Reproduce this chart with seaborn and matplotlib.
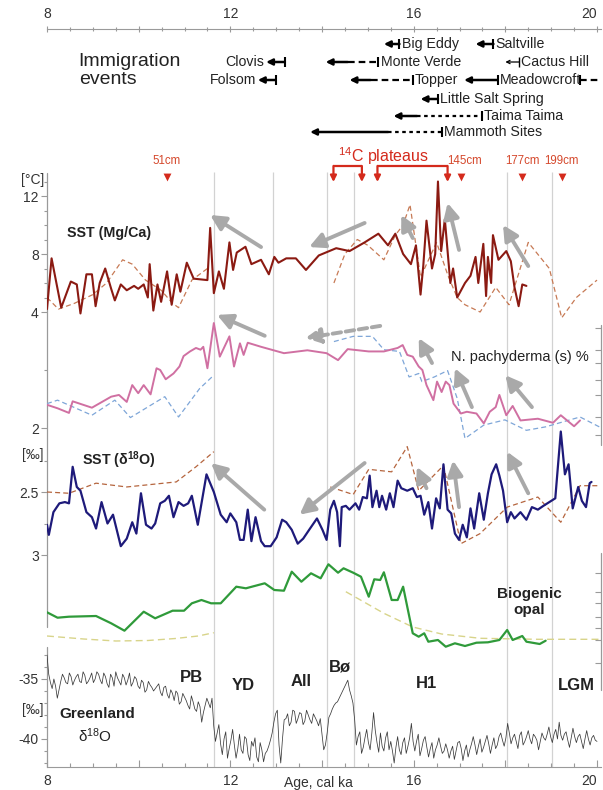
import numpy as np
import matplotlib
matplotlib.use("Agg")
import matplotlib.pyplot as plt
import seaborn as sns

# ---------------- data (ages in cal ka BP) ----------------
# SST from Mg/Ca [deg C]
mgca_age = [8.00, 8.10, 8.31, 8.52, 8.65, 8.73, 8.86, 8.98, 9.06, 9.15,
            9.27, 9.40, 9.48, 9.61, 9.74, 9.90, 9.99, 10.11, 10.20, 10.24,
            10.32, 10.41, 10.49, 10.62, 10.72, 10.83, 10.91, 11.05, 11.20, 11.50,
            11.56, 11.64, 11.75, 11.86, 11.98, 12.06, 12.14, 12.33, 12.46, 12.67,
            12.84, 12.96, 13.05, 13.22, 13.43, 13.65, 13.93, 14.31, 14.60, 14.93,
            15.23, 15.44, 15.60, 15.77, 15.94, 16.05, 16.15, 16.21, 16.28, 16.40,
            16.47, 16.53, 16.60, 16.68, 16.80, 16.86, 16.95, 17.12, 17.24, 17.35,
            17.41, 17.52, 17.58, 17.62, 17.69, 17.73, 17.85, 18.02, 18.12, 18.20,
            18.29, 18.37, 18.46]
mgca_sst = [4.2, 7.7, 4.3, 6.1, 5.9, 3.9, 6.6, 6.6, 4.4, 6.0,
            7.0, 5.6, 4.8, 5.9, 5.5, 5.8, 5.6, 5.9, 5.0, 7.3,
            4.1, 5.9, 4.7, 6.8, 4.5, 6.6, 5.4, 7.4, 6.3, 6.2,
            9.8, 5.3, 6.8, 5.6, 8.8, 6.9, 8.1, 8.5, 7.3, 7.6,
            6.6, 7.8, 7.4, 7.7, 7.7, 6.9, 7.9, 8.4, 8.2, 8.8,
            9.4, 8.6, 9.4, 8.0, 7.3, 8.6, 5.2, 7.2, 10.3, 7.0,
            8.0, 13.0, 8.2, 10.4, 6.0, 7.0, 5.0, 6.0, 6.5, 7.8,
            6.0, 8.7, 5.1, 7.8, 6.0, 9.3, 7.6, 8.2, 7.5, 5.7,
            4.4, 5.9, 5.8]
# comparison record (dashed), two pieces
mgca_ref_age_a = [8.0, 8.25, 8.6, 9.0, 9.3, 9.65, 9.86, 10.15, 10.49, 10.74, 10.87, 11.16, 11.5]
mgca_ref_a = [5.0, 4.2, 4.6, 5.2, 6.0, 7.6, 7.3, 6.2, 5.5, 4.6, 4.3, 6.2, 7.0]
mgca_ref_age_b = [14.26, 14.5, 14.77, 15.0, 15.35, 15.6, 15.77, 15.92, 16.15, 16.5,
                  16.75, 16.95, 17.12, 17.45, 17.79, 18.08, 18.5, 18.96, 19.23, 19.55, 20.0]
mgca_ref_b = [6.0, 8.0, 9.0, 8.6, 7.6, 9.3, 10.0, 11.4, 6.4, 8.8,
              6.5, 5.0, 4.5, 4.0, 5.7, 4.5, 8.8, 7.0, 3.6, 5.0, 6.2]

# N. pachyderma (s) %
pachy_age = [8.0, 8.23, 8.48, 8.56, 8.98, 9.4, 9.57, 9.74, 9.86, 9.99,
             10.11, 10.26, 10.39, 10.47, 10.59, 10.76, 10.89, 10.98, 11.12, 11.25,
             11.35, 11.41, 11.5, 11.64, 11.77, 11.98, 12.08, 12.21, 12.29, 12.38,
             12.67, 13.17, 13.68, 14.1, 14.35, 14.56, 15.02, 15.35, 15.65, 15.76,
             15.86, 15.98, 16.11, 16.19, 16.28, 16.43, 16.51, 16.61, 16.7, 16.78,
             16.87, 17.03, 17.16, 17.37, 17.53, 17.66, 17.79, 17.87, 18.02, 18.16,
             18.33, 18.71, 19.04, 19.21, 19.5, 19.63]
pachy = [2.40, 2.34, 2.26, 2.46, 2.35, 2.54, 2.57, 2.45, 2.74, 2.60,
         2.74, 2.58, 3.03, 3.00, 2.84, 2.94, 3.06, 3.24, 3.32, 3.38,
         3.35, 3.40, 3.03, 3.81, 3.23, 3.58, 3.06, 3.46, 3.26, 3.47,
         3.40, 3.29, 3.34, 3.29, 3.17, 3.36, 3.32, 3.32, 3.38, 3.43,
         3.26, 3.23, 3.06, 3.00, 2.74, 2.48, 2.80, 2.62, 2.80, 2.74,
         2.42, 2.25, 2.28, 2.25, 2.08, 2.28, 2.36, 2.57, 2.22, 2.38,
         2.13, 2.16, 2.09, 2.22, 2.03, 2.13]
pachy_ref_age_a = [8.0, 8.23, 8.52, 8.98, 9.48, 9.82, 10.57, 10.87, 11.33, 11.64]
pachy_ref_a = [2.42, 2.48, 2.38, 2.22, 2.48, 2.18, 2.54, 2.19, 2.68, 2.91]
pachy_ref_age_b = [14.26, 14.68, 15.1, 15.35, 15.69, 15.9, 16.11, 16.18, 16.45, 16.74,
                   16.95, 17.12, 17.53, 17.99, 18.46, 18.88, 19.63, 20.05]
pachy_ref_b = [3.49, 3.58, 3.58, 3.35, 3.32, 2.88, 2.94, 2.80, 2.88, 2.99,
               2.51, 1.82, 2.05, 2.14, 1.96, 2.02, 2.19, 2.02]

# planktic d18O [permil]
d18o_age = [8.00, 8.04, 8.14, 8.27, 8.39, 8.48, 8.56, 8.65, 8.73, 8.86,
            8.98, 9.07, 9.19, 9.32, 9.44, 9.61, 9.74, 9.86, 9.95, 10.05,
            10.16, 10.28, 10.36, 10.47, 10.57, 10.66, 10.76, 10.87, 10.98, 11.08,
            11.16, 11.29, 11.48, 11.64, 11.79, 11.92, 12.00, 12.13, 12.21, 12.29,
            12.38, 12.46, 12.55, 12.67, 12.75, 12.88, 13.01, 13.13, 13.22, 13.34,
            13.47, 13.59, 13.72, 13.89, 14.01, 14.10, 14.18, 14.26, 14.33, 14.39,
            14.43, 14.52, 14.60, 14.73, 14.81, 14.89, 14.98, 15.04, 15.10, 15.19,
            15.25, 15.31, 15.40, 15.48, 15.56, 15.65, 15.73, 15.86, 15.98, 16.07,
            16.15, 16.23, 16.32, 16.40, 16.49, 16.57, 16.65, 16.74, 16.82, 16.90,
            16.99, 17.07, 17.16, 17.24, 17.32, 17.43, 17.53, 17.62, 17.70, 17.80,
            17.87, 17.95, 18.04, 18.12, 18.20, 18.33, 18.46, 18.58, 18.71, 18.83,
            18.96, 19.09, 19.21, 19.30, 19.38, 19.47, 19.59, 19.67, 19.76, 19.84,
            19.88]
d18o = [2.76, 2.84, 2.66, 2.59, 2.58, 2.59, 2.30, 2.46, 2.49, 2.66,
        2.70, 2.79, 2.58, 2.75, 2.68, 2.93, 2.87, 2.74, 2.83, 2.51,
        2.76, 2.79, 2.75, 2.59, 2.57, 2.53, 2.70, 2.58, 2.61, 2.59,
        2.53, 2.76, 2.36, 2.50, 2.68, 2.74, 2.67, 2.74, 2.88, 2.88,
        2.64, 2.89, 2.70, 2.89, 2.93, 2.93, 2.86, 2.72, 2.74, 2.80,
        2.91, 2.87, 2.80, 2.71, 2.80, 2.88, 2.64, 2.57, 2.66, 2.93,
        2.62, 2.61, 2.64, 2.59, 2.64, 2.54, 2.55, 2.37, 2.62, 2.49,
        2.62, 2.53, 2.64, 2.51, 2.62, 2.41, 2.47, 2.49, 2.47, 2.54,
        2.53, 2.68, 2.58, 2.79, 2.55, 2.63, 2.28, 2.64, 2.67, 2.83,
        2.88, 2.76, 2.86, 2.63, 2.79, 2.51, 2.72, 2.51, 2.36, 2.28,
        2.37, 2.49, 2.74, 2.66, 2.71, 2.66, 2.72, 2.62, 2.64, 2.61,
        2.58, 2.55, 2.02, 2.36, 2.28, 2.63, 2.46, 2.57, 2.62, 2.43,
        2.42]
d18o_ref_age_a = [8.0, 8.48, 9.07, 9.74, 10.82, 11.25, 11.64]
d18o_ref_a = [2.50, 2.51, 2.43, 2.46, 2.42, 2.30, 2.18]
d18o_ref_age_b = [14.18, 14.68, 15.02, 15.52, 15.86, 16.11, 16.65, 17.03, 17.45, 18.04,
                  18.71, 19.21, 19.63, 20.05]
d18o_ref_b = [2.46, 2.52, 2.32, 2.34, 2.14, 2.49, 2.29, 2.91, 2.83, 2.62,
              2.54, 2.74, 2.45, 2.45]

# biogenic opal (arbitrary units)
opal_age = [8.0, 8.23, 8.48, 9.07, 9.4, 9.69, 10.11, 10.36, 10.74, 10.99,
            11.16, 11.37, 11.58, 11.79, 12.13, 12.34, 12.75, 12.96, 13.17, 13.34,
            13.55, 13.76, 13.97, 14.14, 14.35, 14.47, 14.68, 14.85, 15.02, 15.14,
            15.27, 15.35, 15.52, 15.65, 15.77, 15.86, 15.98, 16.11, 16.23, 16.32,
            16.53, 16.7, 16.9, 17.12, 17.37, 17.62, 17.87, 18.04, 18.16, 18.37,
            18.46, 18.75, 18.88]
opal = [3.77, 3.23, 3.33, 3.40, 2.67, 1.93, 3.83, 3.17, 3.93, 3.93,
        4.67, 5.00, 4.67, 4.67, 6.33, 6.17, 6.67, 6.00, 5.93, 7.83,
        6.83, 7.67, 7.17, 8.57, 7.73, 8.17, 7.73, 7.33, 5.33, 7.07,
        7.00, 7.77, 5.00, 5.00, 6.33, 4.33, 1.67, 1.33, 1.67, 0.83,
        1.00, 0.33, 0.67, 0.40, 0.73, 0.77, 1.00, 2.00, 1.00, 1.40,
        0.83, 0.60, 0.93]
opal_ref_age_a = [8.0, 8.8, 9.5, 10.2, 10.8, 11.3, 11.64]
opal_ref_a = [1.4, 1.1, 0.9, 0.95, 1.15, 1.4, 1.73]
opal_ref_age_b = [14.52, 15.35, 15.98, 16.61, 17.45, 18.71, 20.05]
opal_ref_b = [5.83, 3.67, 2.3, 1.6, 1.17, 1.07, 1.07]

# Greenland ice d18O [permil], read every 75 yr from 8 to 20 ka ...
greenland = [-33.0, -35.3, -35.0, -36.6, -35.2, -34.9, -35.4, -34.8, -35.1, -34.6,
             -35.3, -34.7, -35.2, -34.5, -35.0, -34.6, -35.4, -34.8, -35.7, -34.9,
             -34.4, -35.2, -34.6, -35.5, -34.5, -35.3, -35.0, -35.8, -35.3, -35.9,
             -35.5, -36.0, -35.6, -36.1, -35.7, -36.3, -35.9, -36.8, -36.2, -36.9,
             -36.5, -37.2, -36.4, -37.5, -36.9, -38.6, -37.2, -37.0, -36.6, -40.2,
             -38.8, -41.3, -39.4, -40.8, -39.2, -41.6, -39.6, -41.2, -40.0, -41.8,
             -40.6, -41.5, -40.3, -41.9, -41.0, -40.1, -38.6, -37.6, -42.0, -38.4,
             -37.9, -38.6, -37.7, -38.3, -37.9, -38.5, -38.0, -38.7, -38.2, -38.9,
             -39.6, -40.5, -38.2, -37.5, -37.0, -36.6, -36.0, -35.4, -35.9, -37.0,
             -40.5, -39.4, -40.7, -39.2, -40.9, -37.8, -40.3, -39.5, -41.0, -39.4,
             -40.2, -42.0, -39.8, -41.3, -39.9, -40.6, -38.7, -41.0, -39.6, -40.8,
             -39.8, -41.5, -40.3, -40.9, -39.9, -41.2, -40.4, -41.6, -40.6, -41.0,
             -40.2, -41.8, -40.5, -40.9, -39.8, -41.3, -40.0, -40.7, -39.7, -41.2,
             -39.9, -40.5, -39.5, -40.6, -38.7, -40.4, -39.6, -40.8, -39.4, -40.2,
             -39.3, -40.4, -39.8, -40.9, -39.5, -40.1, -39.0, -40.3, -39.2, -38.6,
             -40.1, -39.4, -40.7, -39.1, -40.3, -39.6, -40.8, -39.3, -40.5, -39.7,
             -40.2]
# ... and the values read half-way between those samples
greenland_mid = [-34.6, -35.8, -35.6, -35.9, -34.6, -35.3, -34.5, -35.5, -34.8, -35.2,
                 -34.4, -35.4, -34.9, -35.3, -34.4, -35.1, -34.5, -35.4, -34.6, -35.6,
                 -34.9, -35.5, -34.9, -35.1, -35.6, -34.8, -35.6, -35.1, -36.1, -35.2,
                 -35.7, -35.8, -35.4, -36.4, -35.6, -36.6, -36.2, -36.0, -37.1, -36.2,
                 -36.8, -37.5, -36.9, -37.7, -37.3, -37.8, -36.6, -37.4, -38.9, -39.5,
                 -40.4, -40.0, -41.6, -40.1, -40.5, -40.8, -40.9, -39.8, -41.3, -40.2,
                 -39.9, -41.9, -40.9, -41.2, -40.6, -39.5, -37.9, -40.5, -40.0, -38.3,
                 -38.9, -37.6, -38.7, -37.8, -38.8, -37.6, -38.4, -37.9, -38.5, -38.3,
                 -40.9, -39.5, -37.9, -37.2, -36.9, -36.3, -35.7, -35.1, -36.4, -38.4,
                 -39.8, -41.2, -39.9, -40.3, -39.5, -39.3, -41.1, -40.6, -39.9, -40.9,
                 -41.0, -40.7, -40.9, -40.3, -41.2, -39.9, -40.2, -40.2, -41.4, -40.1,
                 -40.7, -40.8, -41.6, -40.5, -40.6, -41.0, -40.9, -41.0, -41.7, -40.3,
                 -40.8, -41.0, -41.5, -40.4, -40.5, -40.6, -41.1, -40.2, -40.4, -40.5,
                 -40.8, -39.8, -40.1, -39.9, -39.5, -39.9, -40.2, -39.7, -40.5, -39.8,
                 -40.0, -39.6, -40.1, -40.2, -39.9, -39.6, -39.8, -39.6, -40.0, -39.7,
                 -39.6, -40.1, -39.9, -39.8, -39.8, -40.2, -40.0, -40.0, -39.9, -40.1]

# climate-period boundaries and names
boundaries = [11.64, 12.92, 14.11, 14.69, 18.04, 19.02]
periods = ["PB", "YD", "All", "Bø", "H1", "LGM"]
period_age = [11.16, 12.28, 13.55, 14.39, 16.28, 19.55]

# immigration events: arrow head (youngest), end of solid part, oldest bound
sites = ["Big Eddy", "Saltville", "Clovis", "Folsom", "Monte Verde", "Cactus Hill",
         "Topper", "Meadowcroft", "Little Salt Spring", "Taima Taima", "Mammoth Sites"]
site_head = [15.35, 17.35, 12.78, 12.60, 14.08, 18.00, 14.60, 17.10, 16.15, 15.56, 13.74]
site_solid = [15.69, 17.74, 13.19, 12.99, 14.56, 18.30, 15.06, 17.83, 16.53, 16.07, 15.44]
site_old = [15.69, 17.74, 13.19, 12.99, 15.23, 18.30, 15.98, 17.83, 16.53, 17.49, 16.61]
meadowcroft_old = [19.62, 20.40]

# 14C dating marks
core_depth = ["51cm", "145cm", "177cm", "199cm"]
core_age = [10.62, 17.03, 18.37, 19.23]
plateaus = [(14.25, 14.87), (15.21, 16.74)]

# grey trend arrows (tail -> head) in each panel's own units
trend_mgca = [((12.67, 8.48), (11.56, 10.69)), ((14.93, 10.14), (13.72, 8.48)),
              ((15.98, 9.10), (15.73, 10.69)), ((16.99, 8.28), (16.74, 11.52)),
              ((18.50, 7.17), (17.95, 10.00))]
trend_pachy = [((12.75, 3.59), (11.71, 3.95)), ((16.40, 3.12), (16.11, 3.55)),
               ((17.27, 2.36), (16.90, 3.03)), ((18.58, 2.36), (18.00, 2.91))]
trend_pachy_dashed = [((15.27, 3.76), (13.64, 3.55))]
trend_d18o = [((12.74, 2.64), (11.58, 2.27)), ((14.93, 2.27), (13.51, 2.68)),
              ((16.28, 2.47), (16.07, 2.30)), ((16.99, 2.62), (16.86, 2.25)),
              ((18.50, 2.51), (18.04, 2.18))]

# ---------------- layout ----------------
FIG_W, FIG_H = 603, 790
AX_LEFT, AX_RIGHT = 47, 601
X0 = 8.0
X1 = 8.0 + 12 * (AX_RIGHT - AX_LEFT) / 550.0
PLOT_TOP, PLOT_BOT = 165, 767
# row of each immigration site (px from top)
site_row = [44, 44, 62, 80, 62, 62, 80, 80, 99, 116, 132]
site_style = ["", "", "", "", "--", "", "--", "", "", ":", ":"]

RED = "#d42a1c"
RED_TXT = "#d5482c"
MGCA_C, MGCA_D = "#8b1a12", "#c77a55"
PINK, BLUE_D = "#d070a2", "#7ea6d8"
NAVY, BROWN_D = "#1e1a7a", "#b5653e"
GREEN, YEL_D = "#2f9a3a", "#d8d48a"
GRL = "#3a3a3a"
ARROW = "#a9a9a9"
VLINE = "#d2d2d2"
AXC = "#9a9a9a"
TXT = "#222222"

sns.set_style("white")
plt.rcParams["font.family"] = ["Liberation Sans", "DejaVu Sans"]
plt.rcParams["mathtext.fontset"] = "custom"
plt.rcParams["mathtext.rm"] = "Liberation Sans"
plt.rcParams["mathtext.it"] = "Liberation Sans:italic"

# Greenland series: samples and half-way readings in age order
grl_vals = []
for a, b in zip(greenland[:-1], greenland_mid):
    grl_vals += [a, b]
grl_vals.append(greenland[-1])
grl_age = np.round(8.0 + 0.0375 * np.arange(len(grl_vals)), 4)

fig = plt.figure(figsize=(FIG_W / 100, FIG_H / 100), dpi=100)
L = AX_LEFT / FIG_W
W = (AX_RIGHT - AX_LEFT) / FIG_W

# master axes in pixel rows, for text and guides
ax0 = fig.add_axes([L, 0, W, 1], label="master")
ax0.set_xlim(X0, X1)
ax0.set_ylim(FIG_H, 0)
ax0.axis("off")


def panel_ylim(ref_px, ref_val, px_per_unit, up=True):
    s = 1 if up else -1
    lo = ref_val - s * (PLOT_BOT - ref_px) / px_per_unit
    hi = ref_val + s * (ref_px - PLOT_TOP) / px_per_unit
    return lo, hi


def make_panel(name, ylim):
    ax = fig.add_axes([L, 1 - PLOT_BOT / FIG_H, W, (PLOT_BOT - PLOT_TOP) / FIG_H],
                      label=name, facecolor="none")
    for s in ax.spines.values():
        s.set_visible(False)
    ax.set_xticks([])
    ax.set_yticks([])
    ax._lims = ylim
    return ax


def finish(ax):
    ax.set_xlim(X0, X1)
    ax.set_ylim(*ax._lims)
    ax.set_xlabel("")
    ax.set_ylabel("")
    ax.tick_params(axis="y", which="both", left=True, direction="out",
                   color=AXC, width=0.8, labelsize=10, labelcolor="#333", pad=2)
    ax.tick_params(axis="y", which="major", length=4)
    ax.tick_params(axis="y", which="minor", length=2.5)


def line(ax, x, y, color, lw, ls="-"):
    sns.lineplot(x=x, y=y, ax=ax, color=color, linewidth=lw, linestyle=ls,
                 sort=False, estimator=None, legend=False)


def trend(ax, arrows, ls="-"):
    for tail, head in arrows:
        ax.annotate("", xy=head, xytext=tail, annotation_clip=False,
                    arrowprops=dict(arrowstyle="-|>,head_length=0.75,head_width=0.38",
                                    color=ARROW, lw=2.8, ls=ls, mutation_scale=12,
                                    shrinkA=0, shrinkB=0))


# guides behind the data
ax0.vlines(boundaries, 172, PLOT_BOT, color=VLINE, lw=0.9)
ax0.plot([X0, X0], [173, 627], color=AXC, lw=0.9, clip_on=False)
ax0.plot([X0, X0], [647, PLOT_BOT], color=AXC, lw=0.9, clip_on=False)
ax0.plot([X1, X1], [325, 445], color=AXC, lw=0.9, clip_on=False)
ax0.plot([X1, X1], [553, 690], color=AXC, lw=0.9, clip_on=False)

# panel 1: SST Mg/Ca
ax1 = make_panel("mgca", panel_ylim(254, 8, 14.5))
line(ax1, mgca_ref_age_a, mgca_ref_a, MGCA_D, 0.9, (0, (4, 2.5)))
line(ax1, mgca_ref_age_b, mgca_ref_b, MGCA_D, 0.9, (0, (4, 2.5)))
line(ax1, mgca_age, mgca_sst, MGCA_C, 1.5)
finish(ax1)
ax1.set_yticks([4, 8, 12], ["4", "8", "12"])
ax1.set_yticks(list(range(4, 14)), minor=True)
trend(ax1, trend_mgca)

# panel 2: N. pachyderma
ax2 = make_panel("pachy", panel_ylim(428, 2, 58))
line(ax2, pachy_ref_age_a, pachy_ref_a, BLUE_D, 0.9, (0, (4, 2.5)))
line(ax2, pachy_ref_age_b, pachy_ref_b, BLUE_D, 0.9, (0, (4, 2.5)))
line(ax2, pachy_age, pachy, PINK, 1.4)
finish(ax2)
ax2.set_yticks([2], ["2"])
ax2.set_yticks([3], minor=True)
trend(ax2, trend_pachy)
trend(ax2, trend_pachy_dashed, ls=(0, (2.2, 1.2)))
ax2r = ax2.twinx()
ax2r.set_ylim(*ax2._lims)
ax2r.set_yticks([3.72, 3.34, 3.12, 2.83, 2.57, 2.19, 1.88], [""] * 7)
ax2r.tick_params(axis="y", right=True, direction="in", length=4, color=AXC)
for s in ax2r.spines.values():
    s.set_visible(False)

# panel 3: SST d18O (axis reversed)
ax3 = make_panel("d18o", panel_ylim(492, 2.5, 126, up=False))
line(ax3, d18o_ref_age_a, d18o_ref_a, BROWN_D, 0.9, (0, (4, 2.5)))
line(ax3, d18o_ref_age_b, d18o_ref_b, BROWN_D, 0.9, (0, (4, 2.5)))
line(ax3, d18o_age, d18o, NAVY, 1.6)
finish(ax3)
ax3.set_yticks([2.5, 3.0], ["2.5", "3"])
ax3.set_yticks([2.25, 2.75], minor=True)
trend(ax3, trend_d18o)

# panel 4: biogenic opal
ax4 = make_panel("opal", panel_ylim(650, 0, 10))
line(ax4, opal_ref_age_a, opal_ref_a, YEL_D, 1.0, (0, (5, 3)))
line(ax4, opal_ref_age_b, opal_ref_b, YEL_D, 1.0, (0, (5, 3)))
line(ax4, opal_age, opal, GREEN, 1.6)
finish(ax4)
ax4.set_yticks([])
ax4r = ax4.twinx()
ax4r.set_ylim(*ax4._lims)
ax4r.set_yticks([7.7, 5.8, 4.7, 3.3, 2.2, 1.0, -1.3], [""] * 7)
ax4r.tick_params(axis="y", right=True, direction="in", length=4, color=AXC)
for s in ax4r.spines.values():
    s.set_visible(False)

# panel 5: Greenland d18O, carries the age axis
ax5 = make_panel("greenland", panel_ylim(679, -35, 12))
line(ax5, grl_age, grl_vals, GRL, 0.55)
finish(ax5)
ax5.set_yticks([-35, -40], ["-35", "-40"])
ax5.set_yticks([-33, -34, -36, -37, -38, -39, -41, -42], minor=True)
ax5.spines["bottom"].set_visible(True)
ax5.spines["bottom"].set_color(AXC)
ax5.set_xticks([8, 10, 12, 14, 16, 18, 20], ["8", "", "12", "", "16", "", "20"])
ax5.set_xticks(np.arange(8, 20.01, 0.5), minor=True)
ax5.tick_params(axis="x", which="both", bottom=True, direction="in", color=AXC,
                width=0.8, labelsize=10, labelcolor="#333", pad=5)
ax5.tick_params(axis="x", which="major", length=5)
ax5.tick_params(axis="x", which="minor", length=3)
ax5.xaxis.get_majorticklabels()[-1].set_horizontalalignment("right")

# top age axis
ax_top = fig.add_axes([L, 1 - 29 / FIG_H, W, 0.0001], label="top", facecolor="none")
ax_top.set_xlim(X0, X1)
for k in ["left", "right", "bottom"]:
    ax_top.spines[k].set_visible(False)
ax_top.spines["top"].set_color(AXC)
ax_top.set_yticks([])
ax_top.xaxis.set_ticks_position("top")
ax_top.set_xticks([8, 10, 12, 14, 16, 18, 20], ["8", "", "12", "", "16", "", "20"])
ax_top.set_xticks(np.arange(8, 20.01, 0.5), minor=True)
ax_top.tick_params(axis="x", which="both", top=True, bottom=False, labeltop=True,
                   labelbottom=False, direction="inout", color=AXC, width=0.8,
                   labelsize=10, labelcolor="#333", pad=3)
ax_top.tick_params(axis="x", which="major", length=5)
ax_top.tick_params(axis="x", which="minor", length=3)
ax_top.xaxis.get_majorticklabels()[-1].set_horizontalalignment("right")

# ---------------- annotations ----------------
ax0.text(8.69, 70.5, "Immigration\nevents", fontsize=14, color=TXT, ha="left",
         va="center", linespacing=1.0)
for name, head, solid, old, row, st in zip(sites, site_head, site_solid, site_old,
                                           site_row, site_style):
    thin = name == "Cactus Hill"
    ax0.annotate("", xy=(head, row), xytext=(solid, row),
                 arrowprops=dict(arrowstyle="-|>" if not thin else "->",
                                 color="k", lw=1.8 if not thin else 0.9,
                                 mutation_scale=9 if not thin else 6,
                                 shrinkA=0, shrinkB=0))
    if st:
        ax0.plot([solid, old], [row, row], color="k", lw=1.6,
                 ls=(0, (3, 1.8)) if st == "--" else (0, (1.6, 1.6)))
    ax0.plot(old, row, marker="|", ms=7, mew=1.5 if not thin else 1.0, color="k")
    if name in ("Clovis", "Folsom"):
        ax0.text(head - 0.04, row, name, fontsize=10.2, color=TXT, ha="right", va="center")
    else:
        ax0.text(old + 0.05, row, name, fontsize=10.2, color=TXT, ha="left", va="center")
ax0.plot(meadowcroft_old, [80, 80], color="k", lw=1.6, ls=(0, (3, 1.8)))
ax0.plot(meadowcroft_old[0], 80, marker="|", ms=7, mew=1.5, color="k")

# 14C markers
ax0.text(15.34, 156, r"$^{14}$C plateaus", color=RED, fontsize=11.5, ha="center", va="center")
for x0, x1 in plateaus:
    ax0.plot([x0, x1], [166, 166], color=RED, lw=1.6, solid_capstyle="butt")
    for x in (x0, x1):
        ax0.annotate("", xy=(x, 182), xytext=(x, 166),
                     arrowprops=dict(arrowstyle="-|>", color=RED, lw=1.6,
                                     mutation_scale=9, shrinkA=0, shrinkB=0))
ax0.scatter(core_age, [177] * len(core_age), marker="v", s=32, color=RED, lw=0)
for lab, x in zip(core_depth, core_age):
    ax0.text(x + (0.08 if lab == "145cm" else 0), 161, lab, color=RED_TXT,
             fontsize=8.3, ha="center", va="center")

# panel labels
ax0.text(8.44, 233, "SST (Mg/Ca)", fontsize=10.3, weight="bold", color=TXT, va="center")
ax0.text(16.82, 357, "N. pachyderma (s) %", fontsize=10.5, color=TXT, va="center")
ax0.text(8.76, 460, r"SST ($\mathregular{\delta^{18}}$O)", fontsize=10.3, weight="bold",
         color=TXT, va="center")
ax0.text(18.52, 602, "Biogenic\nopal", fontsize=11, weight="bold", color=TXT,
         ha="center", va="center", linespacing=1.2)
ax0.text(8.27, 714, "Greenland", fontsize=11, weight="bold", color=TXT, va="center")
ax0.text(9.05, 736, r"$\mathregular{\delta^{18}}$O", fontsize=11, color=TXT,
         ha="center", va="center")
period_row = [677, 685, 681, 667, 683, 685]
for lab, x, y in zip(periods, period_age, period_row):
    ax0.text(x, y, lab, fontsize=12, weight="bold", color=TXT, ha="center", va="center")

# unit labels left of the spine
for lab, y in (("[°C]", 180), ("[‰]", 455), ("[‰]", 710)):
    ax0.text(7.93, y, lab, fontsize=10, color="#333", ha="right", va="center")
ax0.text(13.93, 783, "Age, cal ka", fontsize=10, color="#333", ha="center", va="center")

fig.savefig("out.png", dpi=100)
